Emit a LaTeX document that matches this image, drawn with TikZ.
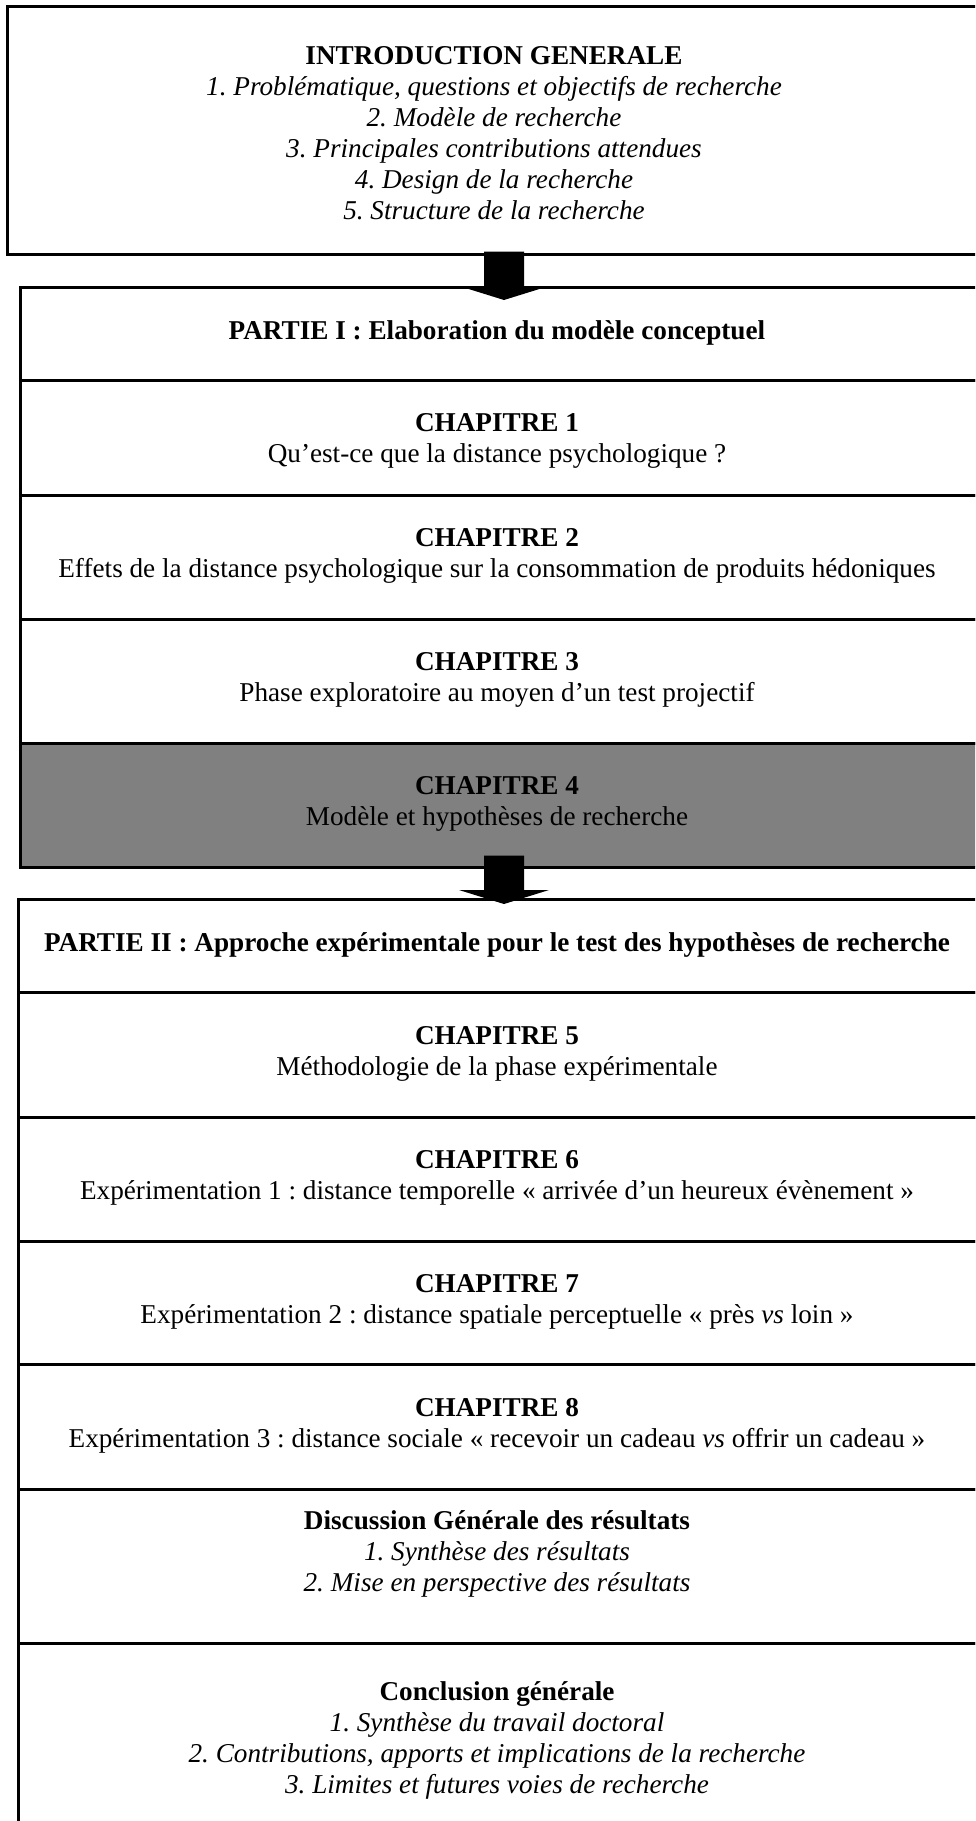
\documentclass[tikz,border=0pt]{standalone}
\usepackage{fontspec}
\setmainfont{Liberation Serif}
\usetikzlibrary{calc}
\definecolor{chapgray}{HTML}{808080}
\begin{document}
\frenchspacing
\begin{tikzpicture}[x=1pt,y=-1pt,
  rowbox/.style={draw, line width=2.6pt, inner sep=0pt, anchor=north west},
  partone/.style={rowbox, minimum width=959pt},
  parttwo/.style={rowbox, minimum width=961pt},
  txt/.style={align=center, inner sep=0pt, font=\fontsize{27.2}{31}\selectfont},
  blockarrow/.style={fill=black}]
\useasboundingbox (0,0) rectangle (975,1821);
\clip (0,0) rectangle (975,1821);
% top box
\node[rowbox, minimum width=976pt, minimum height=248pt] (intro) at (6,5) {};
% part I
\node[partone, minimum height=93pt] (p1h) at (19,286) {};
\node[partone, minimum height=115pt] (c1) at (19,379) {};
\node[partone, minimum height=124pt] (c2) at (19,494) {};
\node[partone, minimum height=124pt] (c3) at (19,618) {};
\node[partone, minimum height=124pt, fill=chapgray] (c4) at (19,742) {};
% part II
\node[parttwo, minimum height=93pt] (p2h) at (17,898) {};
\node[parttwo, minimum height=125pt] (c5) at (17,991) {};
\node[parttwo, minimum height=124pt] (c6) at (17,1116) {};
\node[parttwo, minimum height=123pt] (c7) at (17,1240) {};
\node[parttwo, minimum height=125pt] (c8) at (17,1363) {};
\node[parttwo, minimum height=154pt] (disc) at (17,1488) {};
\node[parttwo, minimum height=200pt] (conc) at (17,1642) {};
% texts
\node[txt] (tintro) at (494,133) {\textbf{INTRODUCTION GENERALE}\\
\textit{1. Problématique, questions et objectifs de recherche}\\
\textit{2. Modèle de recherche}\\
\textit{3. Principales contributions attendues}\\
\textit{4. Design de la recherche}\\
\textit{5. Structure de la recherche}};
\node[txt] (tp1) at (497,333) {\textbf{PARTIE I : Elaboration du modèle conceptuel}};
\node[txt] (tc1) at (497,441) {\textbf{CHAPITRE 1}\\Qu’est-ce que la distance psychologique ?};
\node[txt] (tc2) at (497,556) {\textbf{CHAPITRE 2}\\Effets de la distance psychologique sur la consommation de produits hédoniques};
\node[txt] (tc3) at (497,680) {\textbf{CHAPITRE 3}\\Phase exploratoire au moyen d’un test projectif};
\node[txt] (tc4) at (497,804) {\textbf{CHAPITRE 4}\\Modèle et hypothèses de recherche};
\node[txt] (tp2) at (497,945) {\textbf{PARTIE II : Approche expérimentale pour le test des hypothèses de recherche}};
\node[txt] (tc5) at (497,1054) {\textbf{CHAPITRE 5}\\Méthodologie de la phase expérimentale};
\node[txt] (tc6) at (497,1178) {\textbf{CHAPITRE 6}\\Expérimentation 1 : distance temporelle « arrivée d’un heureux évènement »};
\node[txt] (tc7) at (497,1302) {\textbf{CHAPITRE 7}\\Expérimentation 2 : distance spatiale perceptuelle « près \textit{vs} loin »};
\node[txt] (tc8) at (497,1426) {\textbf{CHAPITRE 8}\\Expérimentation 3 : distance sociale « recevoir un cadeau \textit{vs} offrir un cadeau »};
\node[txt] (tdisc) at (497,1554) {\textbf{Discussion Générale des résultats}\\
\textit{1. Synthèse des résultats}\\
\textit{2. Mise en perspective des résultats}};
\node[txt] (tconc) at (497,1740) {\textbf{Conclusion générale}\\
\textit{1. Synthèse du travail doctoral}\\
\textit{2. Contributions, apports et implications de la recherche}\\
\textit{3. Limites et futures voies de recherche}};
% block arrows
\coordinate (a1top) at ($(intro.south -| 504,0)+(0,-4)$);
\coordinate (a1base) at (p1h.north -| 504,0);
\fill[blockarrow] ($(a1top)+(-20,0)$) -- ($(a1top)+(20,0)$) -- ($(a1base)+(20,0)$)
  -- ($(a1base)+(45,0)$) -- ($(a1base)+(0,14)$) -- ($(a1base)+(-45,0)$)
  -- ($(a1base)+(-20,0)$) -- cycle;
\coordinate (a2top) at ($(c4.south -| 504,0)+(0,-13)$);
\coordinate (a2base) at ($(p2h.north -| 504,0)+(0,-8)$);
\fill[blockarrow] ($(a2top)+(-20,0)$) -- ($(a2top)+(20,0)$) -- ($(a2base)+(20,0)$)
  -- ($(a2base)+(45,0)$) -- ($(a2base)+(0,14)$) -- ($(a2base)+(-45,0)$)
  -- ($(a2base)+(-20,0)$) -- cycle;
\end{tikzpicture}
\end{document}
